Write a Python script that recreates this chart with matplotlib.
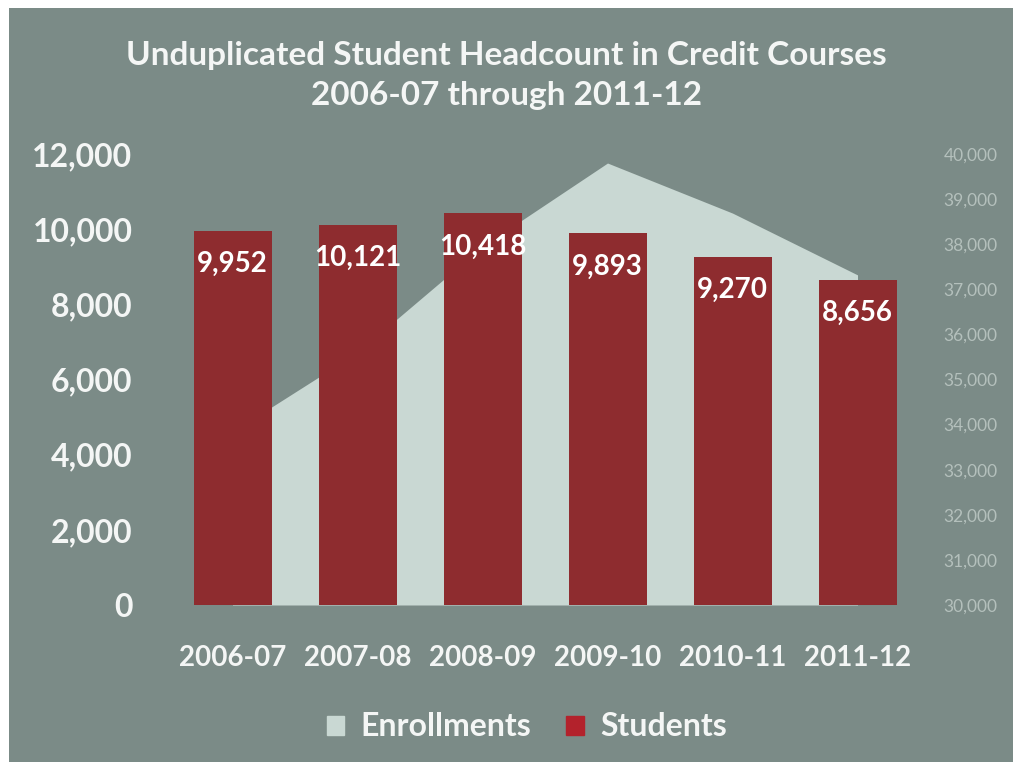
import matplotlib.pyplot as plt
from matplotlib.patches import Rectangle
from matplotlib.ticker import FuncFormatter

years = ['2006-07', '2007-08', '2008-09', '2009-10', '2010-11', '2011-12']
students = [9952, 10121, 10418, 9893, 9270, 8656]
enrollments = [33840, 35600, 37950, 39800, 38690, 37320]

bg = '#7b8b87'
bar_color = '#8e2c2f'
area_color = '#c9d8d3'
txt = '#f4f6f5'

plt.rcParams['font.family'] = ['Lato', 'DejaVu Sans']

fig = plt.figure(figsize=(10.13, 7.62), dpi=100, facecolor='white')
# gray card with a thin white margin on the top and left
fig.patches.append(Rectangle((9 / 1013, 0), 1, 1 - 8 / 762,
                             transform=fig.transFigure, facecolor=bg,
                             edgecolor='none', zorder=-5))

# plot area in pixel terms: x 170..920, y 154..605
ax = fig.add_axes([170 / 1013, 1 - 605 / 762, 750 / 1013, 451 / 762])
ax2 = ax.twinx()
ax.set_zorder(2)
ax2.set_zorder(1)
ax.patch.set_visible(False)
ax2.patch.set_visible(False)

x = list(range(len(years)))

# enrollments area on the secondary axis (behind bars)
ax2.fill_between(x, 30000, enrollments, color=area_color, linewidth=0)
ax2.set_ylim(30000, 40000)
ax2.set_yticks(range(30000, 40001, 1000))

bars = ax.bar(x, students, width=0.624, color=bar_color)
ax.set_ylim(0, 12000)
ax.set_xlim(-0.5, len(years) - 0.5)
ax.set_yticks(range(0, 12001, 2000))
ax.set_xticks(x)
ax.set_xticklabels(years)

fmt = FuncFormatter(lambda v, p: f'{int(v):,}')
ax.yaxis.set_major_formatter(fmt)
ax2.yaxis.set_major_formatter(fmt)

for a in (ax, ax2):
    for s in a.spines.values():
        s.set_visible(False)
    a.tick_params(length=0)

ax.tick_params(axis='y', labelsize=23, labelcolor=txt, pad=27)
ax.tick_params(axis='x', labelsize=20, labelcolor=txt, pad=29)
for lab in ax.get_yticklabels() + ax.get_xticklabels():
    lab.set_fontweight('bold')
ax2.tick_params(axis='y', labelsize=12.5, labelcolor='#b4c0bc', pad=17)

for b, v in zip(bars, students):
    ax.annotate(f'{v:,}', (b.get_x() + b.get_width() / 2, v),
                xytext=(0, -24), textcoords='offset points',
                ha='center', va='center', fontsize=20, fontweight='bold',
                color='white', zorder=5)

fig.text(0.5, 1 - 55 / 762, 'Unduplicated Student Headcount in Credit Courses',
         ha='center', va='center', fontsize=24, fontweight='bold', color=txt)
fig.text(0.5, 1 - 96 / 762, '2006-07 through 2011-12',
         ha='center', va='center', fontsize=24, fontweight='bold', color=txt)

# legend
handles = [Rectangle((0, 0), 1, 1, color=area_color),
           Rectangle((0, 0), 1, 1, color='#b3222c')]
fig.legend(handles, ['Enrollments', 'Students'], loc='center',
           bbox_to_anchor=(0.52, 1 - 727 / 762), ncol=2, frameon=False,
           prop={'size': 23, 'weight': 'bold'}, labelcolor=txt,
           handlelength=0.55, handleheight=0.55, handletextpad=0.5,
           columnspacing=1.1)

fig.savefig('out.png', dpi=100, facecolor='white')
